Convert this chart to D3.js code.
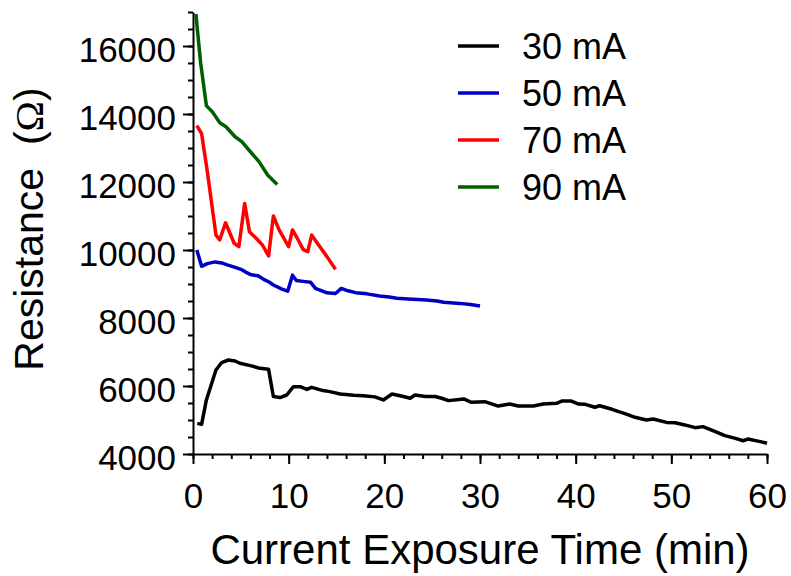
<!DOCTYPE html>
<html>
<head>
<meta charset="utf-8">
<script src="https://cdn.jsdelivr.net/npm/d3@7"></script>
<style>
  body { margin: 0; background: #fff; }
  svg { display: block; font-family: "Liberation Sans", Arial, sans-serif; }
</style>
</head>
<body>
<div id="chart"></div>
<script>
// series: [time (min), resistance (ohm)]
var series30 = [[0.45,4900],[0.9,4870],[1.4,5590],[2.4,6470],[3.0,6690],[3.7,6765],[4.4,6735],[4.9,6670],
  [6.0,6600],[7.0,6520],[7.9,6490],[8.4,5690],[9.1,5660],[9.8,5735],[10.5,5980],[11.2,5980],[11.9,5900],
  [12.4,5960],[13.6,5865],[14.3,5835],[15.4,5765],[16.8,5725],[17.8,5715],[19.0,5680],[19.9,5590],
  [20.8,5765],[22.0,5690],[22.7,5640],[23.2,5735],[24.3,5690],[25.3,5690],[26.0,5640],[26.7,5570],
  [28.3,5620],[29.1,5520],[30.5,5540],[31.9,5410],[33.1,5470],[34.0,5410],[35.6,5410],[36.6,5470],
  [38.0,5490],[38.6,5560],[39.5,5560],[40.3,5470],[41.0,5460],[42.0,5375],[42.5,5420],[43.8,5315],
  [44.5,5245],[45.3,5175],[46.2,5080],[47.4,5000],[48.1,5030],[49.5,4930],[50.4,4920],[51.4,4855],
  [52.5,4775],[53.3,4805],[54.6,4660],[55.6,4540],[56.7,4460],[57.5,4390],[58.0,4440],[59.3,4365],[60.0,4315]];

var series50 = [[0.4,10000],[0.9,9520],[1.5,9600],[2.3,9650],[3.0,9620],[3.5,9570],[4.4,9490],[5.1,9420],
  [5.5,9350],[6.1,9270],[6.8,9240],[7.5,9120],[8.0,9050],[8.4,8970],[9.3,8850],[9.9,8790],[10.4,9260],
  [10.8,9100],[11.7,9070],[12.3,9050],[12.8,8870],[14.0,8740],[14.9,8720],[15.5,8870],[16.2,8800],
  [17.0,8745],[18.2,8710],[19.5,8650],[20.5,8620],[21.3,8580],[22.5,8560],[24.4,8530],[25.5,8500],
  [26.2,8465],[27.9,8430],[29.0,8400],[30.0,8355]];

var series70 = [[0.4,13660],[0.9,13420],[1.5,12300],[2.4,10440],[2.8,10300],[3.4,10800],[4.3,10200],
  [4.8,10100],[5.4,11370],[5.9,10540],[6.6,10345],[7.25,10150],[7.9,9825],[8.4,11000],[9.0,10590],
  [10.0,10100],[10.4,10590],[11.0,10295],[11.5,10020],[12.0,9950],[12.4,10440],[13.0,10200],
  [14.0,9805],[14.9,9430]];

var series90 = [[0.3,16940],[0.8,15500],[1.4,14240],[2.0,14070],[2.8,13745],[3.45,13625],[4.4,13330],
  [5.1,13185],[6.0,12890],[6.9,12600],[7.8,12205],[8.8,11930]];

var legendLabels = ["30 mA", "50 mA", "70 mA", "90 mA"];
var lineColors = ["#000000", "#0000c4", "#ff0000", "#006000"];

var xMajorTicks = [0, 10, 20, 30, 40, 50, 60];
var yMajorTicks = [4000, 6000, 8000, 10000, 12000, 14000, 16000];

var width = 791, height = 576;
var svg = d3.select("#chart").append("svg")
    .attr("width", width)
    .attr("height", height);

var x = d3.scaleLinear().domain([0, 60]).range([193, 767]);
var y = d3.scaleLinear().domain([4000, 17000]).range([454, 12]);

// minor ticks first, majors and axis lines over them
svg.append("g")
    .attr("transform", "translate(0,454)")
    .call(d3.axisBottom(x).tickValues(d3.range(0, 61, 2)).tickSize(5).tickFormat(""))
    .call(function(g) { g.select(".domain").remove(); });

svg.append("g")
    .attr("transform", "translate(193,0)")
    .call(d3.axisLeft(y).tickValues(d3.range(4000, 17001, 500)).tickSize(5).tickFormat(""))
    .call(function(g) { g.select(".domain").remove(); });

var xAxis = svg.append("g")
    .attr("transform", "translate(0,454)")
    .call(d3.axisBottom(x).tickValues(xMajorTicks).tickSize(10).tickSizeOuter(0).tickPadding(19));

var yAxis = svg.append("g")
    .attr("transform", "translate(193,0)")
    .call(d3.axisLeft(y).tickValues(yMajorTicks).tickSize(10).tickSizeOuter(0).tickPadding(7)
      .tickFormat(d3.format("d")));

svg.selectAll(".tick line, .domain")
    .attr("stroke", "#000")
    .attr("stroke-width", 2);

xAxis.selectAll("text")
    .attr("font-family", "Liberation Sans, Arial, sans-serif")
    .attr("font-size", 35)
    .attr("fill", "#000");

yAxis.selectAll("text")
    .attr("font-family", "Liberation Sans, Arial, sans-serif")
    .attr("font-size", 35)
    .attr("fill", "#000")
    .attr("dy", "0.43em");

// data lines
var line = d3.line()
    .x(function(d) { return x(d[0]); })
    .y(function(d) { return y(d[1]); });

var allSeries = [series30, series50, series70, series90];
svg.append("g").selectAll("path")
    .data(allSeries)
    .enter().append("path")
    .attr("d", line)
    .attr("fill", "none")
    .attr("stroke", function(d, i) { return lineColors[i]; })
    .attr("stroke-width", 3.5)
    .attr("stroke-linejoin", "round")
    .attr("stroke-linecap", "butt");

// legend
var legend = svg.append("g").selectAll("g")
    .data(legendLabels)
    .enter().append("g")
    .attr("transform", function(d, i) { return "translate(458," + (46 + i * 47) + ")"; });

legend.append("line")
    .attr("x1", 0).attr("x2", 41)
    .attr("stroke", function(d, i) { return lineColors[i]; })
    .attr("stroke-width", 3.5);

legend.append("text")
    .attr("x", 64)
    .attr("y", 13)
    .attr("font-size", 36)
    .attr("fill", "#000")
    .text(function(d) { return d; });

// axis titles
svg.append("text")
    .attr("x", 480)
    .attr("y", 564)
    .attr("text-anchor", "middle")
    .attr("font-size", 42)
    .attr("fill", "#000")
    .text("Current Exposure Time (min)");

var yTitle = svg.append("text")
    .attr("transform", "translate(43,229) rotate(-90)")
    .attr("text-anchor", "middle")
    .attr("font-size", 41)
    .attr("fill", "#000");
yTitle.append("tspan").text("Resistance\u00a0\u00a0(");
yTitle.append("tspan").attr("font-family", "Liberation Serif, Times New Roman, serif").text("\u03a9");
yTitle.append("tspan").text(")");
</script>
</body>
</html>
